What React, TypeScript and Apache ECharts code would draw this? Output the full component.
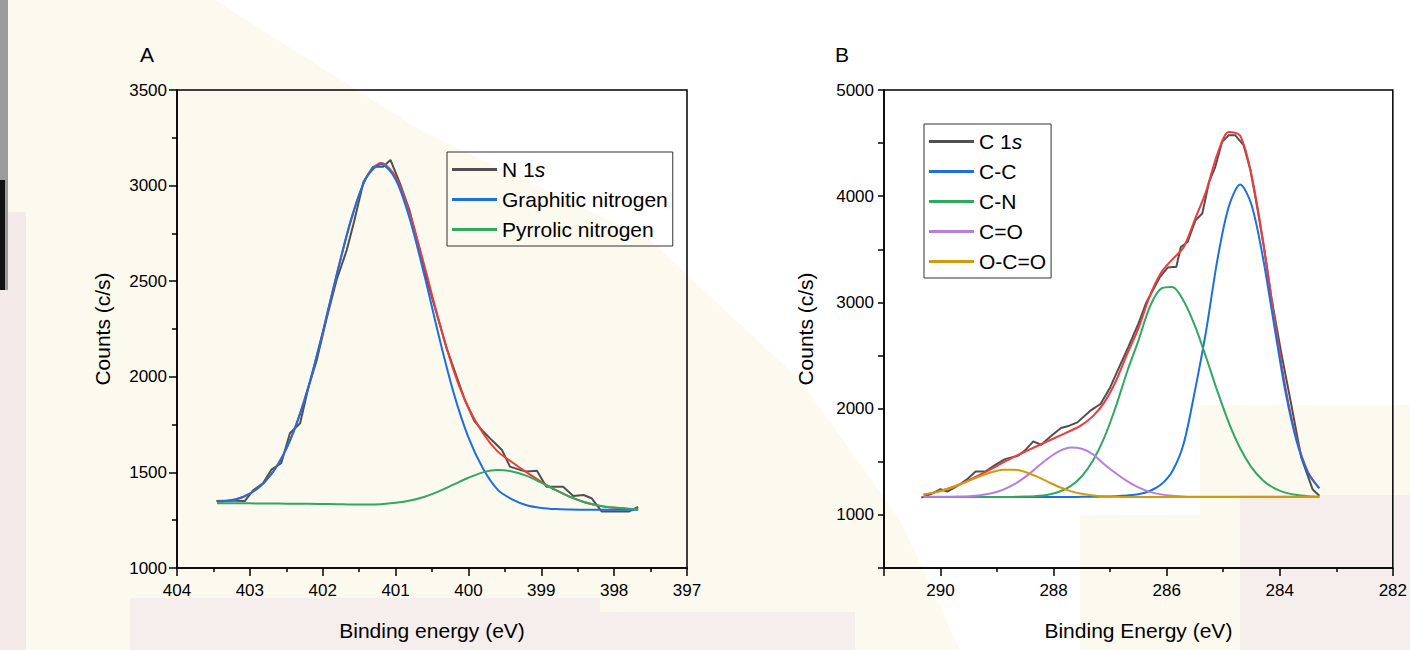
import React, { useEffect, useRef } from "react";
import * as echarts from "echarts";

const FONT = "'Liberation Sans', Arial, Helvetica, sans-serif";
const TICK_FONT = 17;
const TITLE_FONT = 21;
const LEGEND_FONT = 21;

const COLOR_RAW = "#505050";
const COLOR_FIT = "#ef3b3b";
const COLOR_BLUE = "#1c6fe0";
const COLOR_GREEN = "#30a862";
const COLOR_PURPLE = "#b57fe0";
const COLOR_ORANGE = "#cf9b0c";

const panelLabels = ["A", "B"];

// ---------- Panel A : N 1s ----------
const legendA = ["N 1s", "Graphitic nitrogen", "Pyrrolic nitrogen"];
const xRangeA = [397, 404];
const yRangeA = [1000, 3500];

const eRawN = [403.46, 403.35, 403.2, 403.07, 402.95, 402.82, 402.7, 402.57, 402.45, 402.31, 402.2, 402.08, 401.95, 401.81, 401.67, 401.57, 401.44, 401.31, 401.17, 401.07, 400.94, 400.81, 400.68, 400.55, 400.42, 400.3, 400.17, 400.05, 399.92, 399.8, 399.68, 399.54, 399.43, 399.29, 399.2, 399.06, 398.93, 398.7, 398.56, 398.42, 398.31, 398.17, 397.8, 397.67];
const rawN = [1350, 1352, 1352, 1350, 1408, 1443, 1516, 1548, 1705, 1757, 1940, 2090, 2300, 2506, 2663, 2811, 3020, 3099, 3099, 3134, 3012, 2872, 2680, 2480, 2310, 2150, 2010, 1880, 1770, 1715, 1669, 1617, 1530, 1513, 1505, 1509, 1425, 1425, 1377, 1382, 1365, 1295, 1295, 1320];

const eFitN = [403.45, 403.2, 403.0, 402.8, 402.6, 402.4, 402.2, 402.0, 401.8, 401.6, 401.4, 401.2, 401.0, 400.8, 400.6, 400.4, 400.2, 400.0, 399.8, 399.6, 399.4, 399.2, 399.0, 398.8, 398.6, 398.4, 398.2, 398.0, 397.8, 397.67];
const fitN = [1347, 1358, 1389, 1448, 1550, 1713, 1942, 2232, 2547, 2835, 3043, 3118, 3047, 2847, 2574, 2285, 2030, 1838, 1705, 1610, 1553, 1500, 1451, 1407, 1371, 1343, 1325, 1315, 1309, 1307];
const graphiticN = [1347, 1358, 1389, 1448, 1550, 1713, 1942, 2232, 2547, 2835, 3042, 3112, 3033, 2819, 2524, 2204, 1912, 1683, 1520, 1410, 1359, 1328, 1314, 1308, 1306, 1305, 1305, 1305, 1305, 1305];
const pyrrolicN = [1338, 1338, 1338, 1337, 1337, 1336, 1336, 1335, 1334, 1332, 1332, 1334, 1341, 1353, 1373, 1402, 1437, 1472, 1500, 1512, 1505, 1482, 1446, 1407, 1372, 1344, 1326, 1316, 1310, 1308];

// ---------- Panel B : C 1s ----------
const legendB = ["C 1s", "C-C", "C-N", "C=O", "O-C=O"];
const xRangeB = [282, 291];
const yRangeB = [500, 5000];

const eRawC = [290.34, 290.17, 290.0, 289.88, 289.67, 289.52, 289.38, 289.21, 289.03, 288.86, 288.63, 288.5, 288.36, 288.22, 288.05, 287.87, 287.72, 287.58, 287.35, 287.17, 287.0, 286.85, 286.68, 286.5, 286.36, 286.24, 286.12, 285.98, 285.89, 285.83, 285.75, 285.63, 285.49, 285.37, 285.25, 285.14, 285.02, 284.9, 284.79, 284.64, 284.52, 284.4, 284.28, 284.15, 283.97, 283.8, 283.62, 283.42, 283.3];
const rawC = [1163, 1195, 1242, 1220, 1283, 1340, 1408, 1408, 1470, 1525, 1557, 1610, 1692, 1660, 1740, 1818, 1840, 1871, 1981, 2044, 2200, 2380, 2580, 2800, 3000, 3120, 3239, 3330, 3333, 3333, 3522, 3569, 3774, 3837, 4135, 4277, 4513, 4575, 4575, 4481, 4250, 3900, 3520, 3050, 2516, 2050, 1541, 1242, 1180];

const eFitC = [290.3, 290.1, 289.9, 289.7, 289.5, 289.3, 289.1, 288.9, 288.7, 288.5, 288.3, 288.1, 287.9, 287.7, 287.5, 287.3, 287.1, 286.9, 286.7, 286.5, 286.3, 286.1, 285.9, 285.7, 285.5, 285.3, 285.1, 284.9, 284.7, 284.5, 284.3, 284.1, 283.9, 283.7, 283.5, 283.3];
const fitC = [1193, 1212, 1241, 1279, 1327, 1379, 1434, 1491, 1546, 1597, 1646, 1694, 1744, 1792, 1848, 1932, 2062, 2258, 2514, 2756, 3060, 3280, 3406, 3520, 3783, 4051, 4402, 4604, 4569, 4199, 3589, 2875, 2202, 1709, 1403, 1252];
const ccC = [1168, 1168, 1168, 1168, 1168, 1168, 1168, 1168, 1168, 1168, 1168, 1168, 1169, 1169, 1170, 1171, 1172, 1176, 1183, 1195, 1225, 1285, 1410, 1670, 2170, 2740, 3410, 3905, 4110, 3920, 3430, 2790, 2160, 1690, 1395, 1250];
const cnC = [1168, 1168, 1168, 1168, 1168, 1168, 1168, 1169, 1170, 1172, 1177, 1190, 1218, 1271, 1364, 1515, 1733, 2018, 2348, 2640, 2956, 3130, 3145, 3014, 2780, 2479, 2160, 1867, 1627, 1447, 1327, 1253, 1210, 1187, 1176, 1170];
const coC = [1170, 1170, 1170, 1172, 1176, 1185, 1203, 1236, 1287, 1358, 1444, 1531, 1600, 1634, 1622, 1569, 1475, 1392, 1318, 1259, 1217, 1193, 1180, 1174, 1171, 1170, 1170, 1170, 1170, 1170, 1170, 1170, 1170, 1170, 1170, 1170];
const ocoC = [1193, 1212, 1241, 1277, 1321, 1364, 1401, 1424, 1426, 1404, 1362, 1311, 1263, 1224, 1198, 1183, 1174, 1170, 1168, 1168, 1168, 1168, 1168, 1168, 1168, 1168, 1168, 1168, 1168, 1168, 1168, 1168, 1168, 1168, 1168, 1168];

const pairs = (xs: number[], ys: number[]) => xs.map((x, i) => [x, ys[i]]);

const lineSeries = (name: string, color: string, data: number[][], idx: number, smooth: boolean | number) => ({
  type: "line",
  name,
  xAxisIndex: idx,
  yAxisIndex: idx,
  data,
  symbol: "none",
  smooth,
  color,
  itemStyle: { color },
  lineStyle: { color, width: 2 },
  emphasis: { disabled: true },
});

const axisStyle = {
  axisLine: { show: true, onZero: false, lineStyle: { color: "#000", width: 1.5 } },
  axisTick: { show: true, length: 8, lineStyle: { color: "#000", width: 1.5 } },
  splitLine: { show: false },
  nameTextStyle: { color: "#000", fontSize: TITLE_FONT, fontFamily: FONT },
};

const labelStyle = { color: "#000", fontSize: TICK_FONT, fontFamily: FONT };

const legendText = {
  color: "#000",
  fontSize: LEGEND_FONT,
  fontFamily: FONT,
  rich: { i: { fontStyle: "italic", fontSize: LEGEND_FONT, fontFamily: FONT, color: "#000" } },
};

const legendCommon = {
  orient: "vertical",
  icon: "rect",
  itemWidth: 45,
  itemHeight: 3,
  itemGap: 9,
  selectedMode: false,
  borderColor: "#333",
  borderWidth: 1,
  padding: [7, 5, 6, 5],
  textStyle: legendText,
  formatter: (name: string) => (name.endsWith(" 1s") ? name.slice(0, -1) + "{i|s}" : name),
};

function buildOption() {
  return {
    animation: false,
    backgroundColor: "#ffffff",
    textStyle: { fontFamily: FONT },
    graphic: [
      { type: "polygon", z: -100, silent: true, shape: { points: [[0, 0], [215, 0], [420, 130], [650, 240], [800, 380], [900, 520], [960, 650], [0, 650]] }, style: { fill: "#fcf9ee" } },
      { type: "rect", z: -99, silent: true, shape: { x: 1200, y: 405, width: 210, height: 245 }, style: { fill: "#fcf9ee" } },
      { type: "rect", z: -99, silent: true, shape: { x: 1080, y: 515, width: 130, height: 135 }, style: { fill: "#fcf9ee" } },
      { type: "rect", z: -98, silent: true, shape: { x: 1240, y: 495, width: 170, height: 155 }, style: { fill: "#f6eded" } },
      { type: "rect", z: -98, silent: true, shape: { x: 130, y: 598, width: 470, height: 52 }, style: { fill: "#f6eded" } },
      { type: "rect", z: -98, silent: true, shape: { x: 595, y: 612, width: 260, height: 38 }, style: { fill: "#f6eded" } },
      { type: "rect", z: -98, silent: true, shape: { x: 0, y: 212, width: 26, height: 438 }, style: { fill: "#f5eaea" } },
      { type: "rect", z: -97, silent: true, shape: { x: 0, y: 0, width: 8, height: 290 }, style: { fill: "#9c9c9c" } },
      { type: "rect", z: -96, silent: true, shape: { x: 0, y: 180, width: 5, height: 110 }, style: { fill: "#111" } },
      { type: "text", left: 140, top: 44, silent: true, style: { text: panelLabels[0], fontSize: TITLE_FONT, fontFamily: FONT, fill: "#000" } },
      { type: "text", left: 835, top: 44, silent: true, style: { text: panelLabels[1], fontSize: TITLE_FONT, fontFamily: FONT, fill: "#000" } },
    ],
    grid: [
      { left: 177, top: 90, width: 510, height: 478, show: true, borderColor: "#000", borderWidth: 1.5, backgroundColor: "transparent" },
      { left: 884, top: 90, width: 515, height: 478, show: true, borderColor: "#000", borderWidth: 1.5, backgroundColor: "transparent" },
    ],
    xAxis: [
      {
        ...axisStyle,
        type: "value",
        gridIndex: 0,
        min: xRangeA[0],
        max: xRangeA[1],
        interval: 1,
        inverse: true,
        name: "Binding energy (eV)",
        nameLocation: "middle",
        nameGap: 52,
        minorTick: { show: true, splitNumber: 2, length: 4, lineStyle: { color: "#000", width: 1.5 } },
        axisLabel: { ...labelStyle, margin: 14, formatter: (v: number) => String(v) },
      },
      {
        ...axisStyle,
        type: "value",
        gridIndex: 1,
        min: xRangeB[0],
        max: xRangeB[1],
        interval: 2,
        inverse: true,
        name: "Binding Energy (eV)",
        nameLocation: "middle",
        nameGap: 52,
        minorTick: { show: true, splitNumber: 2, length: 4, lineStyle: { color: "#000", width: 1.5 } },
        axisLabel: { ...labelStyle, margin: 14, formatter: (v: number) => (v % 2 === 0 ? String(v) : "") },
      },
    ],
    yAxis: [
      {
        ...axisStyle,
        type: "value",
        gridIndex: 0,
        min: yRangeA[0],
        max: yRangeA[1],
        interval: 500,
        name: "Counts (c/s)",
        nameLocation: "middle",
        nameGap: 64,
        minorTick: { show: true, splitNumber: 2, length: 5, lineStyle: { color: "#000", width: 1.5 } },
        axisLabel: { ...labelStyle, margin: 10, formatter: (v: number) => String(v) },
      },
      {
        ...axisStyle,
        type: "value",
        gridIndex: 1,
        min: yRangeB[0],
        max: yRangeB[1],
        interval: 500,
        name: "Counts (c/s)",
        nameLocation: "middle",
        nameGap: 68,
        axisTick: { show: true, length: 6, lineStyle: { color: "#000", width: 1.5 } },
        axisLabel: { ...labelStyle, margin: 10, formatter: (v: number) => (v % 1000 === 0 ? String(v) : "") },
      },
    ],
    legend: [
      { ...legendCommon, left: 447, top: 152, data: legendA },
      { ...legendCommon, left: 924, top: 124, data: legendB },
    ],
    series: [
      lineSeries("N 1s", COLOR_RAW, pairs(eRawN, rawN), 0, false),
      lineSeries("Envelope N", COLOR_FIT, pairs(eFitN, fitN), 0, 0.3),
      lineSeries("Graphitic nitrogen", COLOR_BLUE, pairs(eFitN, graphiticN), 0, 0.3),
      lineSeries("Pyrrolic nitrogen", COLOR_GREEN, pairs(eFitN, pyrrolicN), 0, 0.3),
      lineSeries("C 1s", COLOR_RAW, pairs(eRawC, rawC), 1, false),
      lineSeries("Envelope C", COLOR_FIT, pairs(eFitC, fitC), 1, 0.3),
      lineSeries("C-C", COLOR_BLUE, pairs(eFitC, ccC), 1, 0.3),
      lineSeries("C-N", COLOR_GREEN, pairs(eFitC, cnC), 1, 0.3),
      lineSeries("C=O", COLOR_PURPLE, pairs(eFitC, coC), 1, 0.3),
      lineSeries("O-C=O", COLOR_ORANGE, pairs(eFitC, ocoC), 1, 0.3),
    ],
  };
}

export default function App() {
  const ref = useRef<HTMLDivElement>(null);
  useEffect(() => {
    document.body.style.margin = "0";
    if (!ref.current) return;
    const chart = echarts.init(ref.current, undefined, { renderer: "svg" });
    chart.setOption(buildOption() as any);
    return () => chart.dispose();
  }, []);
  return <div ref={ref} style={{ width: 1410, height: 650 }} />;
}
